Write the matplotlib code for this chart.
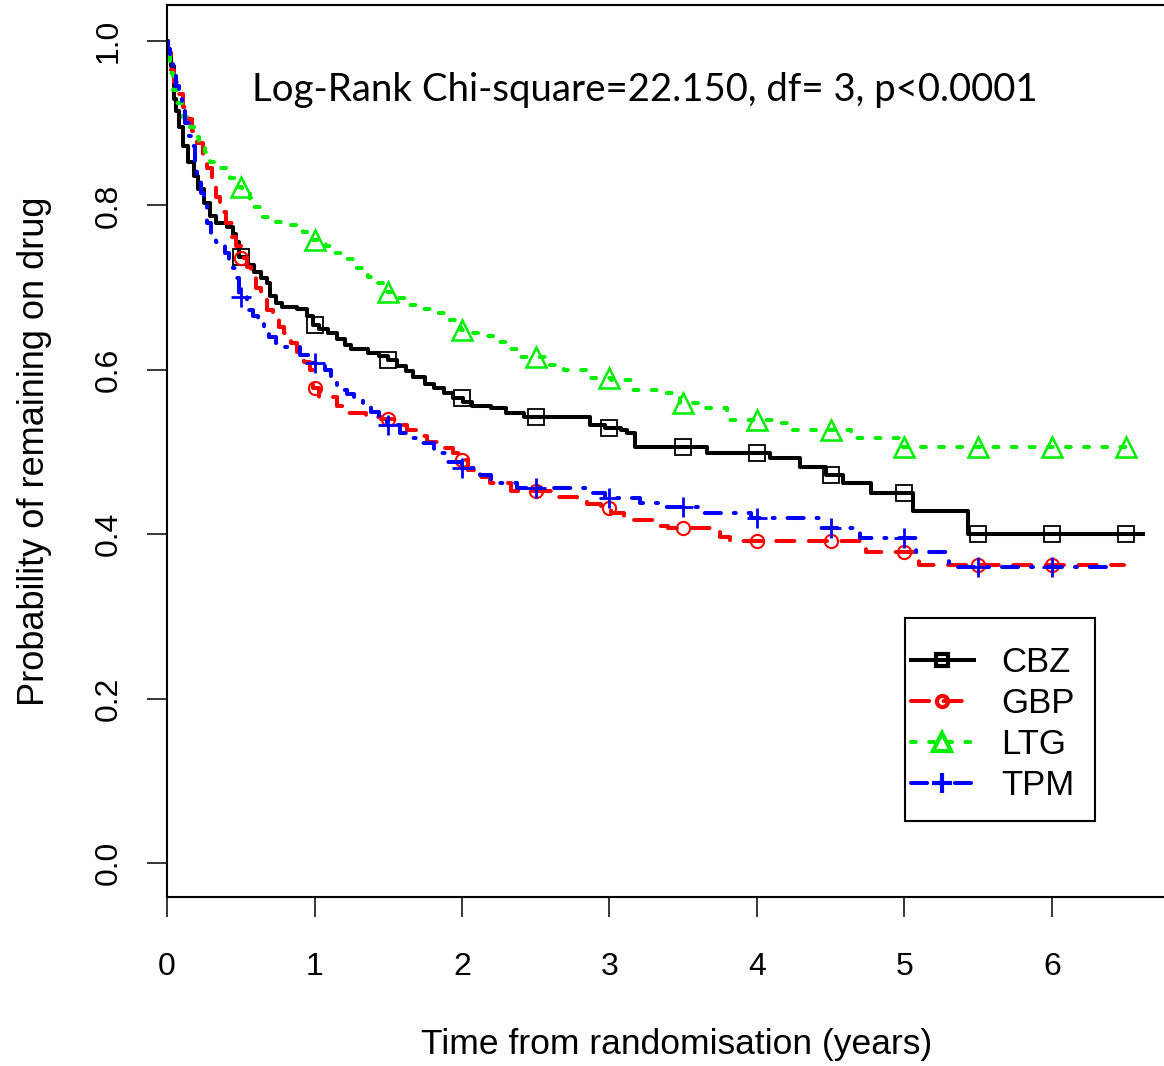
import numpy as np
import matplotlib
matplotlib.use("Agg")
import matplotlib.pyplot as plt
from matplotlib.patches import Rectangle

plt.rcParams["font.family"] = ["Liberation Sans", "DejaVu Sans"]

# Kaplan-Meier style step curves: (time in years, survival after that time)
cbz_t = [0, 0.01, 0.03, 0.05, 0.06, 0.08, 0.11, 0.14, 0.18, 0.21, 0.25, 0.29, 0.33, 0.41,
         0.45, 0.47, 0.49, 0.55, 0.59, 0.64, 0.68, 0.70, 0.74, 0.78, 0.88, 0.95, 0.99,
         1.03, 1.09, 1.15, 1.21, 1.25, 1.36, 1.44, 1.50, 1.56, 1.62, 1.67, 1.75, 1.81,
         1.88, 1.94, 2.01, 2.07, 2.20, 2.30, 2.42, 2.87, 2.97, 3.08, 3.12, 3.17, 3.66,
         4.09, 4.29, 4.47, 4.58, 4.77, 5.06, 5.43, 6.63]
cbz_s = [1.0, 0.985, 0.97, 0.93, 0.915, 0.895, 0.872, 0.853, 0.836, 0.82, 0.803, 0.787,
         0.779, 0.774, 0.765, 0.755, 0.737, 0.727, 0.719, 0.712, 0.705, 0.690, 0.681,
         0.676, 0.674, 0.665, 0.655, 0.650, 0.645, 0.637, 0.630, 0.625, 0.621, 0.617,
         0.612, 0.605, 0.598, 0.591, 0.583, 0.578, 0.572, 0.566, 0.561, 0.556, 0.553,
         0.548, 0.543, 0.533, 0.529, 0.527, 0.523, 0.506, 0.499, 0.493, 0.482, 0.472,
         0.462, 0.450, 0.428, 0.400, 0.400]

gbp_t = [0, 0.01, 0.03, 0.05, 0.08, 0.11, 0.14, 0.17, 0.20, 0.245, 0.27, 0.305, 0.33,
         0.36, 0.40, 0.44, 0.47, 0.50, 0.54, 0.57, 0.60, 0.64, 0.68, 0.72, 0.76, 0.79,
         0.84, 0.88, 0.93, 0.97, 0.99, 1.03, 1.15, 1.22, 1.35, 1.45, 1.55, 1.63, 1.70,
         1.76, 1.85, 1.94, 1.99, 2.04, 2.10, 2.19, 2.33, 2.62, 2.78, 2.85, 2.94, 3.01,
         3.10, 3.14, 3.30, 3.40, 3.70, 3.75, 3.82, 4.74, 5.10, 6.49]
gbp_s = [1.0, 0.985, 0.965, 0.95, 0.935, 0.92, 0.905, 0.89, 0.876, 0.86, 0.845, 0.827,
         0.81, 0.792, 0.778, 0.762, 0.75, 0.736, 0.725, 0.712, 0.70, 0.686, 0.673, 0.662,
         0.652, 0.645, 0.633, 0.622, 0.61, 0.60, 0.578, 0.567, 0.556, 0.547, 0.543, 0.540,
         0.533, 0.527, 0.52, 0.512, 0.505, 0.499, 0.49, 0.478, 0.47, 0.462, 0.452, 0.445,
         0.441, 0.437, 0.432, 0.426, 0.42, 0.417, 0.41, 0.408, 0.404, 0.397, 0.392,
         0.378, 0.362, 0.362]

ltg_t = [0, 0.01, 0.02, 0.03, 0.04, 0.07, 0.11, 0.14, 0.18, 0.22, 0.26, 0.29, 0.36, 0.43,
         0.47, 0.51, 0.56, 0.63, 0.72, 0.81, 0.92, 0.99, 1.08, 1.13, 1.20, 1.29, 1.36,
         1.42, 1.47, 1.55, 1.63, 1.72, 1.81, 1.92, 1.99, 2.06, 2.13, 2.21, 2.30, 2.40,
         2.58, 2.69, 2.85, 3.01, 3.16, 3.37, 3.48, 3.62, 3.80, 4.14, 4.21, 4.64, 4.98, 6.58]
ltg_s = [1.0, 0.985, 0.973, 0.961, 0.94, 0.925, 0.908, 0.895, 0.883, 0.873, 0.865, 0.853,
         0.845, 0.833, 0.822, 0.815, 0.798, 0.786, 0.78, 0.776, 0.768, 0.758, 0.75, 0.742,
         0.735, 0.724, 0.713, 0.705, 0.695, 0.687, 0.679, 0.674, 0.669, 0.661, 0.648,
         0.645, 0.641, 0.634, 0.625, 0.616, 0.606, 0.60, 0.59, 0.588, 0.575, 0.572, 0.56,
         0.553, 0.539, 0.535, 0.527, 0.517, 0.506, 0.506]

tpm_t = [0, 0.01, 0.02, 0.04, 0.06, 0.08, 0.10, 0.12, 0.15, 0.17, 0.19, 0.20, 0.23, 0.25,
         0.27, 0.30, 0.33, 0.39, 0.42, 0.45, 0.47, 0.49, 0.54, 0.58, 0.62, 0.66, 0.69,
         0.74, 0.78, 0.90, 0.97, 1.07, 1.11, 1.15, 1.22, 1.27, 1.33, 1.38, 1.44, 1.49,
         1.58, 1.65, 1.72, 1.81, 1.90, 2.0, 2.12, 2.20, 2.26, 2.37, 2.85, 2.97, 3.21,
         3.37, 3.64, 3.96, 4.43, 4.70, 5.08, 5.30, 6.45]
tpm_s = [1.0, 0.99, 0.975, 0.96, 0.945, 0.93, 0.915, 0.90, 0.885, 0.872, 0.85, 0.83,
         0.815, 0.80, 0.778, 0.765, 0.755, 0.742, 0.733, 0.724, 0.712, 0.688, 0.673,
         0.665, 0.658, 0.648, 0.64, 0.633, 0.628, 0.618, 0.608, 0.60, 0.59, 0.575, 0.57,
         0.565, 0.557, 0.549, 0.54, 0.533, 0.523, 0.517, 0.511, 0.499, 0.488, 0.48,
         0.472, 0.466, 0.462, 0.456, 0.45, 0.444, 0.438, 0.433, 0.426, 0.42, 0.408,
         0.395, 0.378, 0.360, 0.360]

drugs = ["CBZ", "GBP", "LTG", "TPM"]
times = [cbz_t, gbp_t, ltg_t, tpm_t]
survs = [cbz_s, gbp_s, ltg_s, tpm_s]
annot = "Log-Rank Chi-square=22.150, df= 3, p<0.0001"

W, H = 1164, 1066
lw = 2.9
styles = [
    dict(color="black", ls="-", marker="s", ms=12, mew=1.3, lms=9),
    dict(color="#ff0000", ls=(0, (4.5, 3.6)), marker="o", ms=9.5, mew=1.5, lms=8),
    dict(color="#00ee00", ls=(0, (1.2, 3.3)), marker="^", ms=15, mew=1.8, lms=13),
    dict(color="#0000ff", ls=(0, (4.0, 3.2, 0.5, 3.2)), marker="+", ms=15, mew=2.0, lms=15),
]

fig = plt.figure(figsize=(W / 100, H / 100), dpi=100)
ax = fig.add_axes([167 / W, 169 / H, 1020 / W, 892 / H])

handles = []
for name, t, s, st in zip(drugs, times, survs, styles):
    t = np.asarray(t)
    s = np.asarray(s)
    ax.plot(t, s, drawstyle="steps-post", color=st["color"], ls=st["ls"], lw=lw,
            solid_capstyle="butt", dash_capstyle="round")
    mt = np.arange(0.5, t[-1] + 1e-9, 0.5)
    ms_ = s[np.searchsorted(t, mt, side="right") - 1]
    ax.plot(mt, ms_, ls="none", marker=st["marker"], ms=st["ms"], mew=st["mew"],
            mfc="none", mec=st["color"])
    h, = ax.plot([], [], color=st["color"], ls=st["ls"], lw=lw, marker=st["marker"],
                 ms=st["lms"], mew=3.0, mfc="none", mec=st["color"],
                 dash_capstyle="round")
    handles.append(h)

ax.set_xlim(0, 1020 / 147.5)
ax.set_ylim(-0.0414, 1.0438)
ax.set_xticks(range(0, 7))
ax.set_yticks([0.0, 0.2, 0.4, 0.6, 0.8, 1.0])
ax.set_yticklabels(["0.0", "0.2", "0.4", "0.6", "0.8", "1.0"])
for sp in ("left", "bottom", "top"):
    ax.spines[sp].set_linewidth(1.5)
ax.spines["right"].set_visible(False)
ax.tick_params(direction="out", length=14.5, width=1.1, labelsize=23)
ax.tick_params(axis="x", pad=25)
ax.tick_params(axis="y", pad=17, labelrotation=90)
for lab in ax.get_yticklabels():
    lab.set_va("center")

ax.set_xlabel("Time from randomisation (years)", fontsize=25.5)
ax.set_ylabel("Probability of remaining on drug", fontsize=26)
ax.xaxis.set_label_coords(0.5, (897 - 1028) / 892)
ax.yaxis.set_label_coords((52 - 167) / 1020, 0.5)

ax.text(3.24, 0.94, annot, fontsize=27.6, family=["Lato", "DejaVu Sans"],
        ha="center", va="center")

# legend: box drawn separately so the padding matches the original
fig.patches.append(Rectangle((905 / W, 1 - 821 / H), 190 / W, 203 / H,
                             transform=fig.transFigure, fill=False, ec="black", lw=1.5))
leg = ax.legend(handles, drugs, loc="upper left", frameon=False,
                handlelength=1.8, handletextpad=0.8,
                labelspacing=0.23, borderpad=0, borderaxespad=0,
                bbox_to_anchor=((911 - 167) / 1020, (897 - 646) / 892),
                prop={"family": "Liberation Sans", "size": 25})

fig.savefig("out.png", dpi=100)
